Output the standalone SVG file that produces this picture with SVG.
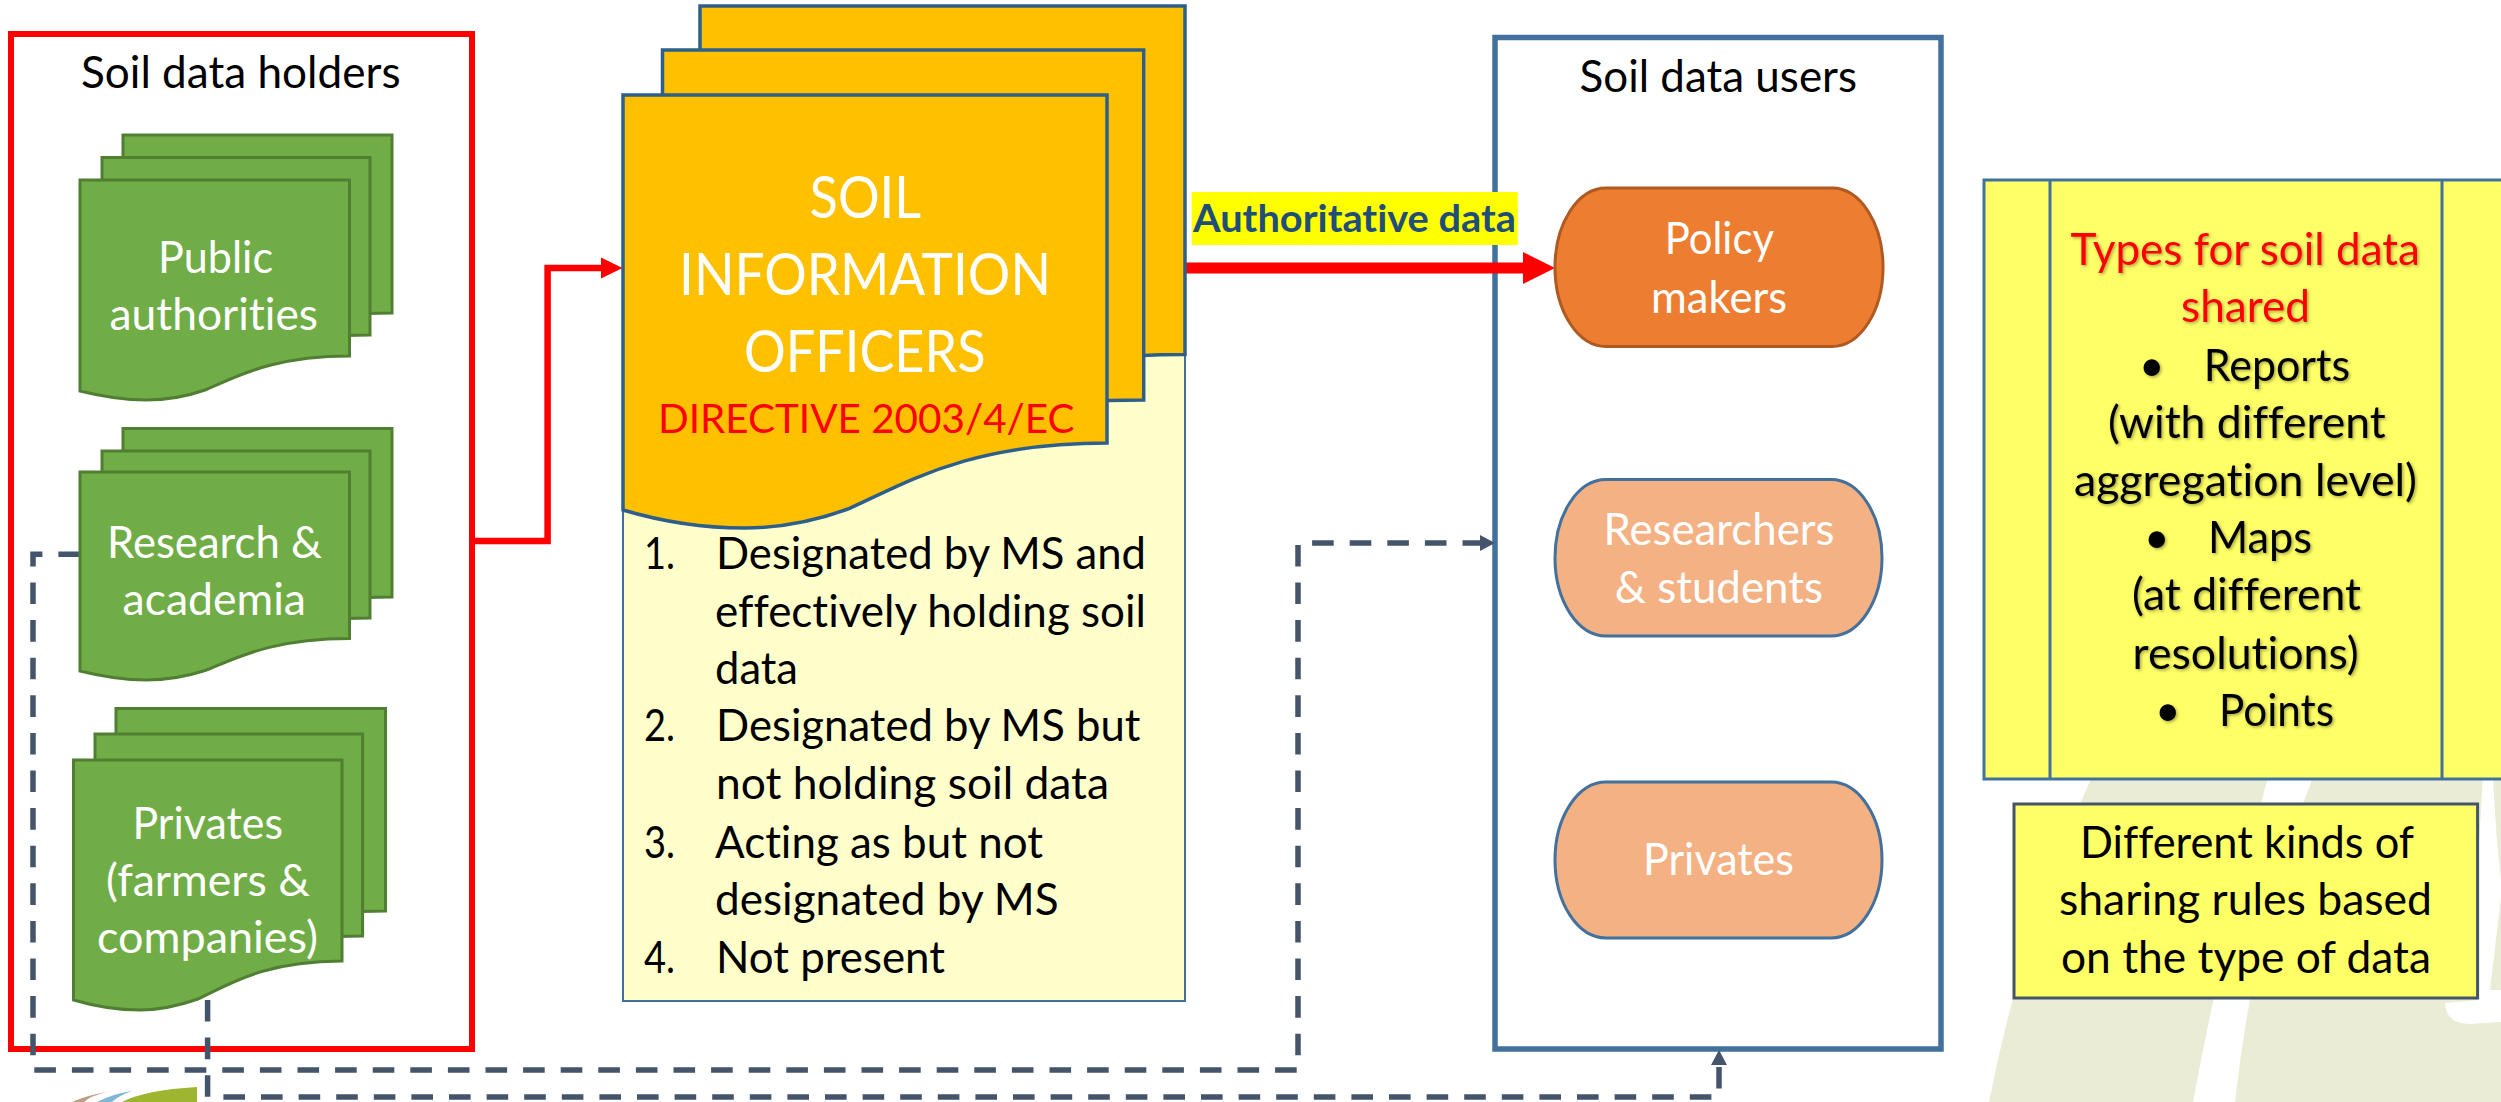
<svg xmlns="http://www.w3.org/2000/svg" width="2501" height="1102" viewBox="0 0 2501 1102">
<style>
text{font-family:Lato,"Noto Sans",sans-serif;font-size:44px;fill:#000;font-variant-ligatures:none}
.w{fill:#fff}
.h{font-size:59px}
.r{fill:#f00}
.g{fill:#70AD47;stroke:#507E32;stroke-width:3}
.o{fill:#FFC000;stroke:#2E5F8A;stroke-width:3.5}
.p{fill:#F4B183;stroke:#41719C;stroke-width:3}
.y{fill:#FFFF66;stroke:#41719C;stroke-width:3}
.d{fill:none;stroke:#44546A;stroke-width:5.5;stroke-dasharray:21.6 16}
.e{fill:none;stroke:#f00}
.bg{fill:#EAECD5}
</style>
<defs>
<marker id="a1" markerUnits="userSpaceOnUse" markerWidth="24" markerHeight="24" refX="0" refY="12" orient="auto" overflow="visible"><path d="M0,1.5L21.5,12L0,22.5Z" fill="#f00"/></marker>
<marker id="a2" markerUnits="userSpaceOnUse" markerWidth="34" markerHeight="34" refX="0" refY="17" orient="auto" overflow="visible"><path d="M0,1L32,17L0,33Z" fill="#f00"/></marker>
<marker id="a3" markerUnits="userSpaceOnUse" markerWidth="18" markerHeight="18" refX="0" refY="9" orient="auto" overflow="visible"><path d="M0,1L15,9L0,17Z" fill="#44546A"/></marker>
<filter id="s" x="-5%" y="-5%" width="110%" height="110%"><feDropShadow dx="1.5" dy="1.5" stdDeviation="1.5" flood-color="#000" flood-opacity=".35"/></filter>
</defs>

<rect width="2501" height="1102" fill="#fff"/>
<g id="background">
<path class="bg" d="M2095,770H2270Q2225,930 2193,1102H1989Q2025,920 2095,770Z"/>
<path class="bg" d="M2316,770H2501V1102H2235Q2255,920 2316,770Z"/>
<path fill="#fff" d="M2483,775H2493Q2496,840 2501,880V897L2490,990H2501V1022L2470,1024Q2446,1024 2445,1003L2478,1000V860Z"/>
<path fill="#B8A080" d="M72,1102Q88,1095 107,1092Q90,1096 84,1102Z"/>
<path fill="#7FB8D0" d="M97,1102Q112,1094 132,1091Q118,1096 112,1102Z"/>
<path fill="#9DB52F" d="M122,1102Q145,1090 197,1087V1102Z"/>
</g>

<g id="soil-data-holders">
<rect x="11" y="34" width="461" height="1015" fill="#fff" stroke="#f00" stroke-width="6"/>
<text x="81" y="87.5" textLength="319.5" lengthAdjust="spacingAndGlyphs">Soil data holders</text>
</g>
<g id="soil-data-users">
<rect x="1495" y="37.5" width="446" height="1011.5" fill="#fff" stroke="#41719C" stroke-width="5.5"/>
<text x="1579.5" y="92" textLength="277.5" lengthAdjust="spacingAndGlyphs">Soil data users</text>
</g>

<g id="connectors">
<path class="d" d="M80,554.3H33V1070H1298V543H1480" marker-end="url(#a3)"/>
<path class="d" d="M207.6,1000V1097H1719V1065" marker-end="url(#a3)"/>
<path class="e" stroke-width="6.5" d="M472,541H547.6V268H601" marker-end="url(#a1)"/>
<rect x="1191.7" y="192" width="326.1" height="53" fill="#FF0"/>
<text x="1193" y="232" textLength="323" lengthAdjust="spacingAndGlyphs" style="font-size:38px;font-weight:700;fill:#1F4E79">Authoritative data</text>
<path class="e" stroke-width="11" d="M1185,268H1523" marker-end="url(#a2)"/>
</g>

<g id="public-authorities">
<path class="g" d="M123,135H392V313C300,313 280,330 250,345C210,358 170,345 123,340Z"/>
<path class="g" d="M102,157.5H370V335C280,335 260,350 230,365C190,380 150,370 102,365Z"/>
<path class="g" d="M80,180H349.5V356C270,356 235,378 205,390C185,397 165,400 146,400C122,400 100,396 80,391Z"/>
<text class="w" x="158" y="273" textLength="115" lengthAdjust="spacingAndGlyphs">Public</text>
<text class="w" x="109.5" y="330" textLength="208.5" lengthAdjust="spacingAndGlyphs">authorities</text>
</g>
<g id="research-academia">
<path class="g" d="M123,428.5H392V597C300,597 280,612 250,625C210,640 170,625 123,620Z"/>
<path class="g" d="M102,451H370V618C280,618 260,633 230,645C190,660 150,650 102,645Z"/>
<path class="g" d="M80,472H349.5V638.5C270,638.5 235,659 205,670.5C185,677 165,680 146,680C122,680 100,676 80,671Z"/>
<text class="w" x="107" y="558" textLength="215" lengthAdjust="spacingAndGlyphs">Research &amp;</text>
<text class="w" x="122.5" y="614.5" textLength="183.5" lengthAdjust="spacingAndGlyphs">academia</text>
</g>
<g id="privates-holders">
<path class="g" d="M116,708.5H385.5V911C295,911 275,930 245,945C205,960 165,945 116,940Z"/>
<path class="g" d="M95,734H362.6V936C275,936 255,955 225,970C185,985 145,975 95,970Z"/>
<path class="g" d="M73.5,760H342V961C263,961 228,985 198,999C178,1006 158,1010 140,1010C116,1010 94,1006 73.5,1000Z"/>
<text class="w" x="132.5" y="838.5" textLength="150.5" lengthAdjust="spacingAndGlyphs">Privates</text>
<text class="w" x="106" y="895.5" textLength="204" lengthAdjust="spacingAndGlyphs">(farmers &amp;</text>
<text class="w" x="97" y="953" textLength="221" lengthAdjust="spacingAndGlyphs">companies)</text>
</g>

<g id="soil-information-officers">
<rect x="623" y="200" width="562" height="801" fill="#FFFFCC" stroke="#41719C" stroke-width="2"/>
<path class="o" d="M700,6H1185V354.6C1010,354.6 960,395 910,420C840,460 770,440 700,420Z"/>
<path class="o" d="M662.5,50H1143.7V400C970,400 920,440 870,465C800,505 730,485 662.5,465Z"/>
<path class="o" d="M623,95H1107V443C965,443 902,485.5 848,509C812,522 780,528 744,528C700,528 660,521 623,510Z"/>
<text class="w h" x="809.6" y="218" textLength="111.4" lengthAdjust="spacingAndGlyphs">SOIL</text>
<text class="w h" x="679" y="294.6" textLength="372" lengthAdjust="spacingAndGlyphs">INFORMATION</text>
<text class="w h" x="744" y="371.5" textLength="241.5" lengthAdjust="spacingAndGlyphs">OFFICERS</text>
<text class="r" style="font-size:41px" x="658" y="433" textLength="416.5" lengthAdjust="spacingAndGlyphs">DIRECTIVE 2003/4/EC</text>
<text x="644" y="569" textLength="31" lengthAdjust="spacingAndGlyphs">1.</text>
<text x="716" y="569" textLength="430" lengthAdjust="spacingAndGlyphs">Designated by MS and</text>
<text x="715" y="627" textLength="431" lengthAdjust="spacingAndGlyphs">effectively holding soil</text>
<text x="715" y="684" textLength="83" lengthAdjust="spacingAndGlyphs">data</text>
<text x="644" y="741" textLength="31" lengthAdjust="spacingAndGlyphs">2.</text>
<text x="716" y="741" textLength="424.5" lengthAdjust="spacingAndGlyphs">Designated by MS but</text>
<text x="716" y="798.6" textLength="393" lengthAdjust="spacingAndGlyphs">not holding soil data</text>
<text x="644" y="858" textLength="31" lengthAdjust="spacingAndGlyphs">3.</text>
<text x="715" y="858" textLength="328" lengthAdjust="spacingAndGlyphs">Acting as but not</text>
<text x="715" y="914.5" textLength="343.7" lengthAdjust="spacingAndGlyphs">designated by MS</text>
<text x="644" y="973" textLength="31" lengthAdjust="spacingAndGlyphs">4.</text>
<text x="716" y="973" textLength="229" lengthAdjust="spacingAndGlyphs">Not present</text>
</g>

<g id="policy-makers">
<path d="M1606,188H1832A51,79.2 0 0 1 1832,346.5H1606A51,79.2 0 0 1 1606,188Z" fill="#ED7D31" stroke="#AE5A21" stroke-width="3"/>
<text class="w" x="1664.7" y="253.6" textLength="109.3" lengthAdjust="spacingAndGlyphs">Policy</text>
<text class="w" x="1651" y="312.5" textLength="136" lengthAdjust="spacingAndGlyphs">makers</text>
</g>
<g id="researchers-students">
<path class="p" d="M1606,479.6H1831A51,78.2 0 0 1 1831,636H1606A51,78.2 0 0 1 1606,479.6Z"/>
<text class="w" x="1603.5" y="545" textLength="231" lengthAdjust="spacingAndGlyphs">Researchers</text>
<text class="w" x="1614.7" y="603.4" textLength="208.3" lengthAdjust="spacingAndGlyphs">&amp; students</text>
</g>
<g id="privates-users">
<path class="p" d="M1606,782H1831A51,78 0 0 1 1831,938H1606A51,78 0 0 1 1606,782Z"/>
<text class="w" x="1643" y="875" textLength="151" lengthAdjust="spacingAndGlyphs">Privates</text>
</g>

<g id="types-of-data">
<rect class="y" x="1984" y="180" width="530" height="599"/>
<path fill="none" stroke="#41719C" stroke-width="3" d="M2050,180V779M2442,180V779"/>
<g filter="url(#s)">
<text class="r" x="2070.5" y="265" textLength="349.5" lengthAdjust="spacingAndGlyphs">Types for soil data</text>
<text class="r" x="2181" y="322" textLength="129" lengthAdjust="spacingAndGlyphs">shared</text>
<text x="2139" y="380.7">•</text>
<text x="2203.7" y="380.7" textLength="146.3" lengthAdjust="spacingAndGlyphs">Reports</text>
<text x="2108" y="437.7" textLength="277.7" lengthAdjust="spacingAndGlyphs">(with different</text>
<text x="2074" y="495.7" textLength="343" lengthAdjust="spacingAndGlyphs">aggregation level)</text>
<text x="2144" y="553">•</text>
<text x="2208" y="553" textLength="104" lengthAdjust="spacingAndGlyphs">Maps</text>
<text x="2132" y="610" textLength="229" lengthAdjust="spacingAndGlyphs">(at different</text>
<text x="2132.6" y="669" textLength="226.2" lengthAdjust="spacingAndGlyphs">resolutions)</text>
<text x="2155" y="726">•</text>
<text x="2219" y="726" textLength="115" lengthAdjust="spacingAndGlyphs">Points</text>
</g>
</g>
<g id="sharing-rules">
<rect x="2014" y="804" width="463.6" height="194" fill="#FFFF66" stroke="#44546A" stroke-width="3"/>
<text x="2080" y="858" textLength="334" lengthAdjust="spacingAndGlyphs">Different kinds of</text>
<text x="2059" y="915" textLength="373" lengthAdjust="spacingAndGlyphs">sharing rules based</text>
<text x="2061" y="973" textLength="370" lengthAdjust="spacingAndGlyphs">on the type of data</text>
</g>
</svg>
